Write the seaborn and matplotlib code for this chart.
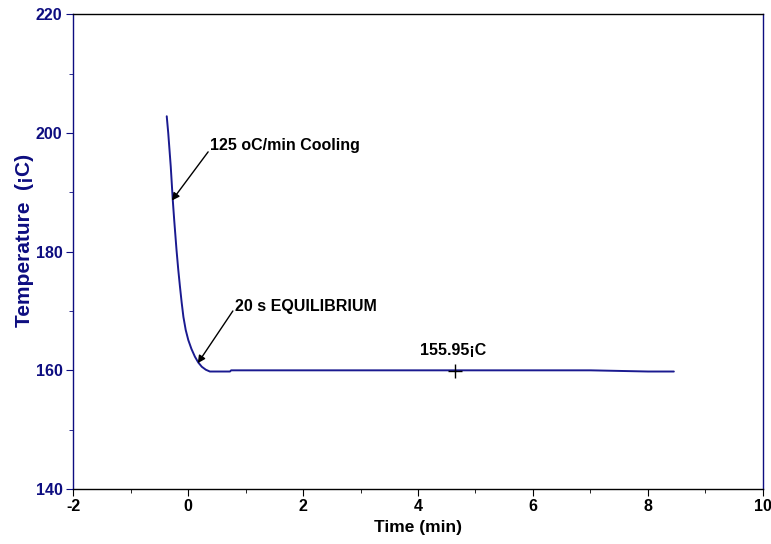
import matplotlib
matplotlib.use("Agg")
import matplotlib.pyplot as plt
import seaborn as sns
import pandas as pd
from matplotlib.ticker import MultipleLocator

# Data (time in min, temperature in ¡C)
time_min = [-0.37, -0.344, -0.30, -0.265, -0.24, -0.20, -0.17, -0.14, -0.11, -0.08,
            -0.04, 0.005, 0.06, 0.12, 0.18, 0.24, 0.31, 0.38, 0.50, 0.65,
            0.73, 0.75, 1.0, 1.5, 2.0, 2.5, 3.0, 3.5, 4.0, 4.5,
            5.0, 5.5, 6.0, 6.5, 7.0, 7.5, 8.0, 8.45]
temp_c = [202.8, 200.0, 194.3, 188.7, 185.3, 180.3, 177.0, 174.1, 171.4, 169.0,
          166.8, 165.1, 163.6, 162.3, 161.3, 160.6, 160.1, 159.8, 159.8, 159.8,
          159.8, 160.0, 160.0, 160.0, 160.0, 160.0, 160.0, 160.0, 160.0, 160.0,
          160.0, 160.0, 160.0, 160.0, 160.0, 159.9, 159.8, 159.8]

marker_time = [4.64]
marker_temp = [159.9]

x_ticks = [-2, 0, 2, 4, 6, 8, 10]
y_ticks = [140, 160, 180, 200, 220]

df = pd.DataFrame({"Time": time_min, "Temp": temp_c})

sns.set_style("ticks")
plt.rcParams["font.family"] = ["Liberation Sans", "DejaVu Sans"]
plt.rcParams["font.weight"] = "bold"
plt.rcParams["text.color"] = "black"
plt.rcParams["axes.unicode_minus"] = False

navy = "#0d0d80"
line_col = "#1a1a90"

fig, ax = plt.subplots(figsize=(7.71, 5.44), dpi=100)
fig.subplots_adjust(left=0.0947, right=0.9896, top=0.974, bottom=0.101)

sns.lineplot(data=df, x="Time", y="Temp", ax=ax, color=line_col, linewidth=1.4,
             sort=False, estimator=None)
ax.plot(marker_time, marker_temp, marker="+", color="black", markersize=10,
        markeredgewidth=1.0, linestyle="none")

ax.set_xlim(-2, 10)
ax.set_ylim(140, 220)
ax.set_xticks(x_ticks)
ax.set_yticks(y_ticks)
ax.xaxis.set_minor_locator(MultipleLocator(1))
ax.yaxis.set_minor_locator(MultipleLocator(10))
ax.tick_params(axis="x", which="major", direction="out", length=5, colors="black",
               labelsize=11.5, pad=2.5)
ax.tick_params(axis="x", which="minor", direction="out", length=3, colors="black")
ax.tick_params(axis="y", which="major", direction="out", length=5, colors=navy,
               labelsize=11.5, pad=2.5)
ax.tick_params(axis="y", which="minor", direction="out", length=3, colors=navy)
for lab in ax.get_xticklabels() + ax.get_yticklabels():
    lab.set_fontweight("bold")

ax.spines["left"].set_color(navy)
ax.spines["right"].set_color(navy)
ax.spines["top"].set_color("black")
ax.spines["bottom"].set_color("black")
for s in ax.spines.values():
    s.set_visible(True)
    s.set_linewidth(1.0)

ax.set_xlabel("Time (min)", fontsize=12.5, fontweight="bold", color="black")
ax.xaxis.set_label_coords(0.5, -0.066)
ax.set_ylabel("Temperature  (¡C)", fontsize=15, fontweight="bold", color=navy)
ax.yaxis.set_label_coords(-0.056, 0.524)

arrow = dict(arrowstyle="-|>", color="black", lw=1.0, mutation_scale=11,
             shrinkA=0, shrinkB=0, facecolor="white")
ax.annotate("", xy=(-0.28, 188.6), xytext=(0.35, 196.8), arrowprops=arrow)
ax.text(0.38, 197.9, "125 oC/min Cooling", fontsize=11.5, fontweight="bold",
        ha="left", va="center", color="black")
ax.annotate("", xy=(0.17, 161.2), xytext=(0.78, 170.0), arrowprops=arrow)
ax.text(0.82, 170.7, "20 s EQUILIBRIUM", fontsize=11.5, fontweight="bold",
        ha="left", va="center", color="black")
ax.text(4.61, 163.3, "155.95¡C", fontsize=11.5, fontweight="bold",
        ha="center", va="center", color="black")

fig.savefig("out.png", dpi=100)
